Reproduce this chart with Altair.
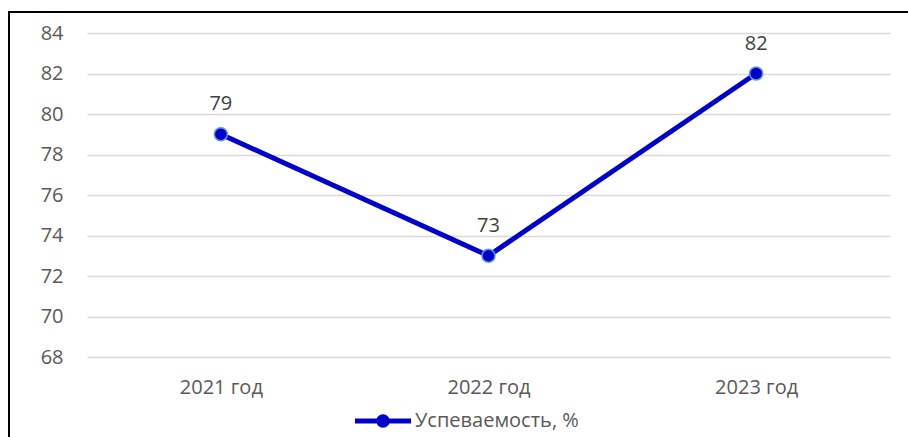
import altair as alt
import pandas as pd

years = ["2021 год", "2022 год", "2023 год"]
values = [79, 73, 82]
series_name = "Успеваемость, %"

df = pd.DataFrame({"year": years, "value": values, "series": [series_name] * len(years)})

FONT = "Open Sans"
TEXT_GRAY = "#595959"
LINE_BLUE = "#0000CC"
RING_BLUE = "#5B9BD5"

# legend glyph: thick line segment with a dot in the middle
legend_glyph = (
    "M-1,-0.09H1V0.09H-1Z "
    "M0.24,0A0.24,0.24,0,1,1,-0.24,0A0.24,0.24,0,1,1,0.24,0Z"
)

x_enc = alt.X(
    "year:N",
    sort=years,
    scale=alt.Scale(type="point", padding=0.5),
    axis=alt.Axis(
        title=None, labelAngle=0, domain=False, ticks=False, grid=False,
        labelFont=FONT, labelFontSize=20, labelColor=TEXT_GRAY, labelPadding=20,
    ),
)
y_enc = alt.Y(
    "value:Q",
    scale=alt.Scale(domain=[68, 84], nice=False, zero=False),
    axis=alt.Axis(
        title=None, values=list(range(68, 85, 2)), domain=False, ticks=False,
        grid=True, gridColor="#D9D9D9", gridWidth=1.5,
        labelFont=FONT, labelFontSize=20, labelColor=TEXT_GRAY, labelPadding=24,
    ),
)

base = alt.Chart(df)

line = base.mark_line(strokeWidth=5).encode(
    x=x_enc,
    y=y_enc,
    color=alt.Color(
        "series:N",
        scale=alt.Scale(range=[LINE_BLUE]),
        legend=alt.Legend(
            title=None, orient="none", legendX=268, legendY=360,
            symbolType=legend_glyph, symbolSize=3136, symbolFillColor=LINE_BLUE,
            symbolStrokeColor=LINE_BLUE, symbolStrokeWidth=0,
            labelFont=FONT, labelFontSize=20, labelColor=TEXT_GRAY, labelOffset=4,
            labelLimit=400,
        ),
    ),
)

points = base.mark_point(
    filled=True, size=170, shape="circle", fill=LINE_BLUE, stroke=RING_BLUE,
    strokeWidth=1.5, opacity=1,
).encode(x=alt.X("year:N", sort=years), y="value:Q")

labels = base.mark_text(
    dy=-24, baseline="alphabetic", font=FONT, fontSize=20, color="#404040",
).encode(x=alt.X("year:N", sort=years), y="value:Q", text="value:Q")

# outer frame around the chart
frame = alt.Chart(df).mark_rect(
    fill=None, stroke="black", strokeWidth=2,
).encode(
    x=alt.value(-78), x2=alt.value(860), y=alt.value(-21), y2=alt.value(420),
)

chart = (
    alt.layer(frame, line, points, labels)
    .properties(
        width=803, height=324,
        autosize=alt.AutoSizeParams(type="none"),
        padding={"left": 87, "top": 33, "right": 18, "bottom": 80},
        background="white",
    )
    .configure_view(stroke=None)
)

chart.save("out.html", embed_options={"renderer": "svg", "actions": False})
